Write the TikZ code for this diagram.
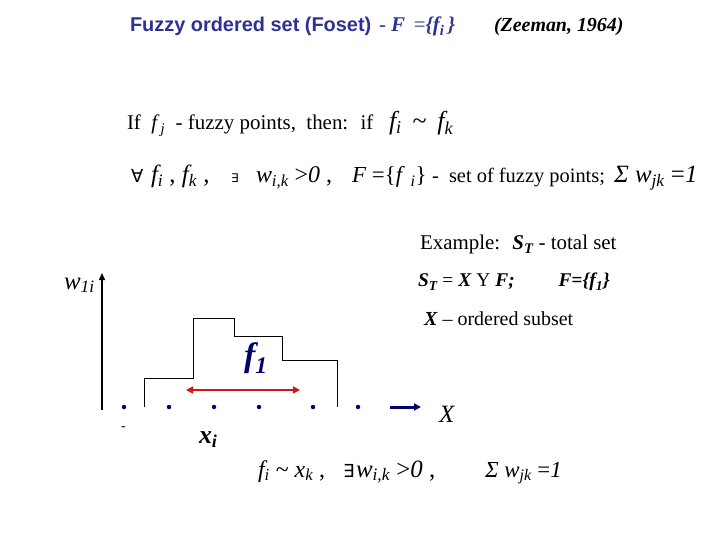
\documentclass[tikz,border=0pt]{standalone}
\usepackage{fontspec}
\setmainfont{Liberation Serif}
\newfontfamily\arialfont{Liberation Sans}
\newfontfamily\symfont{DejaVu Sans}
\usetikzlibrary{arrows.meta}
\definecolor{titleblue}{RGB}{46,49,146}
\definecolor{navy}{RGB}{0,0,110}
\definecolor{arrred}{RGB}{210,20,20}
\newcommand{\fs}[1]{\fontsize{#1}{#1}\selectfont}
\newcommand{\sbs}[1]{\textsubscript{#1}}
\newcommand{\bi}[1]{\textbf{\textit{#1}}}

\begin{document}
\begin{tikzpicture}[x=1bp,y=-1bp,
  txt/.style={anchor=base west,inner sep=0,outer sep=0},
  dot/.style={circle,fill=navy,inner sep=0,minimum size=4.5bp}]
\useasboundingbox (0,0) rectangle (720,540);
% title line
\node[txt,text=titleblue] (title) at (130,32) {\arialfont\bfseries\fs{20}Fuzzy ordered set (Foset)};
\node[txt,text=titleblue] (titleF) at (379,32) {\fs{21}- \bi{F} \,=\bi{\{f\sbs{i}\,\}}};
\node[txt] (zeeman) at (494,32) {\fs{20}\bi{(Zeeman, 1964)}};
% definitions
\node[txt] (if) at (127,130) {\fs{21}If \ \textit{f\,\sbs{j}} \ - fuzzy points, \ then: \ if};
\node[txt] (fifk) at (389,130) {\fs{26}\textit{f\sbs{i}} \,\textasciitilde{}\, \textit{f\sbs{k}}};
\node[txt] (forall) at (131,183) {\symfont\fs{18}∀};
\node[txt] (fk) at (151,183) {\fs{25}\textit{f\sbs{i}} , \textit{f\sbs{k}} ,};
\node[txt] (exists) at (231,183) {\symfont\fs{12}∃};
\node[txt] (wik) at (256,183) {\fs{24}\textit{w\sbs{i,k}} >\textit{0} ,};
\node[txt] (Fset) at (352,183) {\fs{23}\textit{F} =\{\textit{f} \sbs{\textit{i}}\}};
\node[txt] (fuzzy) at (432,183) {\fs{20.5}- \ set of fuzzy points;};
\node[txt] (sum) at (614,183) {\fs{25}\textit{Σ w\sbs{jk}} =\textit{1}};
% example
\node[txt] (example) at (420,250) {\fs{21}Example: \ \bi{S\sbs{T}} - total set};
\node[txt] (total) at (418,287) {\fs{19.5}\bi{S\sbs{T}} = \bi{X} Y \bi{F;} \qquad\bi{F=\{f\sbs{1}\}}};
\node[txt] (subset) at (424,325) {\fs{20}\bi{X} – ordered subset};
% axis and membership
\node[txt] (wli) at (64,289) {\fs{25}\textit{w\sbs{1i}}};
\coordinate (o) at (102,410);
\coordinate (ytop) at (102,273);
\draw[line width=1.3bp,-{Triangle[length=7bp,width=6bp]}] (o) -- (ytop);
\foreach \x [count=\i] in {124,169,214,259,313,358} {
  \node[dot] (x\i) at (\x,407) {};
}
\draw[line width=0.8bp] (144,407) |- (193,378) |- (234,318) |- (282,336) |- (337,360) -- (337,407);
\node[text=navy] (f1) at (256,358) {\fs{34}\bi{f\sbs{1}}};
\coordinate (fa) at (186,390);
\coordinate (fb) at (300,390);
\draw[arrred,line width=1.5bp,{Triangle[length=7bp,width=7bp]}-{Triangle[length=7bp,width=7bp]}] (fa) -- (fb);
\coordinate (xa) at (390,407);
\coordinate (xb) at (421,407);
\draw[navy,line width=3bp,-{Triangle[length=7bp,width=7bp]}] (xa) -- (xb);
\node[txt] (X) at (439,422) {\fs{25}\textit{X}};
\node[txt] (dash) at (121,430) {\fs{14}-};
\node[txt] (xi) at (199,443) {\fs{26}\bi{x\sbs{i}}};
% bottom relation
\node[txt] (fixk) at (258,477) {\fs{24}\textit{f\sbs{i}} \textasciitilde{} \textit{x\sbs{k}} ,};
\node[txt] (exists2) at (343,477) {\symfont\fs{18}∃\kern-4bp};
\node[txt] (wik2) at (356,477) {\fs{25}\textit{w\sbs{i,k}} >\textit{0} ,};
\node[txt] (sum2) at (485,477) {\fs{23}\textit{Σ w\sbs{jk}} =\textit{1}};
\end{tikzpicture}
\end{document}
